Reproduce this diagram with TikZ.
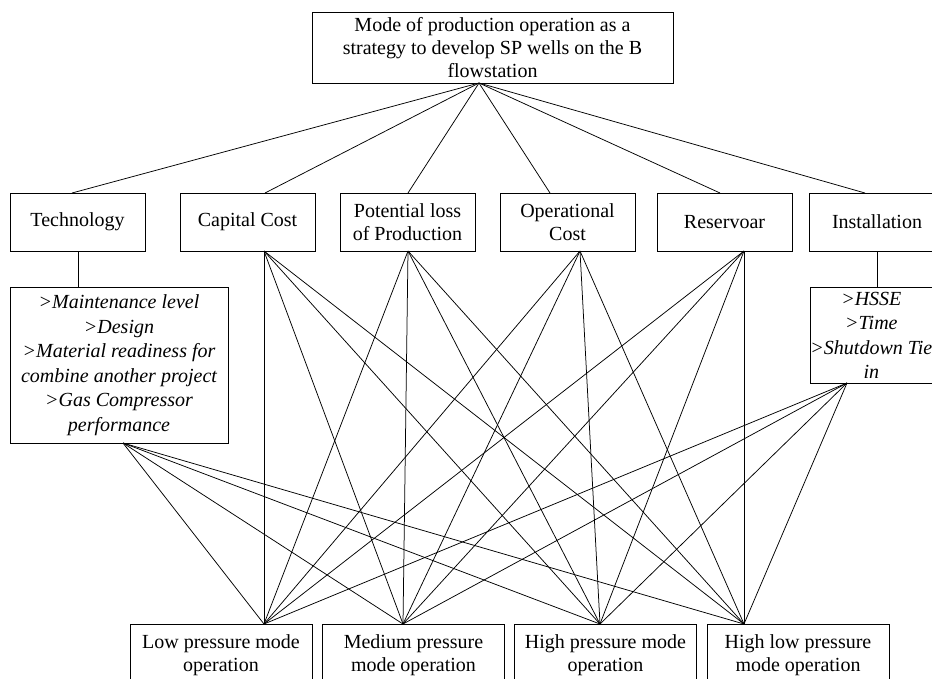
\documentclass[tikz,border=0pt]{standalone}
\usepackage{fontspec}
\setmainfont{Liberation Serif}
\begin{document}
\begin{tikzpicture}[x=1pt,y=-1pt,
  box/.style={draw, line width=0.9pt, align=center, inner sep=0pt,
    font=\fontsize{20}{23}\selectfont},
  detail/.style={box, font=\fontsize{20}{24.5}\selectfont\itshape},
  lvl/.style={box, minimum width=135, minimum height=58},
  alt/.style={box, minimum width=182, minimum height=62, anchor=north},
  link/.style={line width=0.75pt}]
\clip (0,0) rectangle (932,678);
\fill[white] (0,0) rectangle (932,678);

% goal
\node[box, minimum width=361, minimum height=71] (goal) at (492.5,47.5)
  {Mode of production operation as a\\strategy to develop SP wells on the B\\flowstation};

% criteria
\node[lvl] (tech) at (77.5,222) {Technology};
\node[lvl] (cap)  at (247.5,222) {Capital Cost};
\node[lvl] (pot)  at (407.5,222) {Potential loss\\of Production};
\node[lvl] (opc)  at (567.5,222) {Operational\\Cost};
\node[lvl] (res)  at (724.5,222) {Reservoar};
\node[lvl, minimum width=136] (ins) at (877,222) {Installation};

% details
\node[detail, minimum width=218, minimum height=156] (techd) at (119,365)
  {>Maintenance level\\>Design\\>Material readiness for\\combine another project\\>Gas Compressor\\performance};
\node[detail, draw=none, minimum width=118, minimum height=96, anchor=north west] (insd) at (810,287)
  {>HSSE\\>Time\\>Shutdown Tie\\in};
\draw[line width=0.9pt] (insd.north west) rectangle ++(140,96);

% alternatives
\node[alt] (low)  at (221,624) {Low pressure mode\\operation};
\node[alt] (med)  at (413.5,624) {Medium pressure\\mode operation};
\node[alt] (high) at (605.5,624) {High pressure mode\\operation};
\node[alt] (hl)   at (798,624) {High low pressure\\mode operation};

% connection points
\coordinate (gb) at (479,83);
\coordinate (techt) at (72,193);
\coordinate (capt)  at (265,193);
\coordinate (pott)  at (408,193);
\coordinate (opct)  at (550,193);
\coordinate (rest)  at (720,193);
\coordinate (inst)  at (865,193);
\coordinate (techb) at (78,251);
\coordinate (capb)  at (264,251);
\coordinate (potb)  at (408,251);
\coordinate (opcb)  at (580,251);
\coordinate (resb)  at (744,251);
\coordinate (insb)  at (877,251);
\coordinate (techdt) at (78,287);
\coordinate (insdt)  at (877,287);
\coordinate (techdb) at (123,443);
\coordinate (insdb)  at (847,383);
\coordinate (lowin)  at (264,624);
\coordinate (medin)  at (403,624);
\coordinate (highin) at (600,624);
\coordinate (hlin)   at (744,624);

\foreach \t in {techt,capt,pott,opct,rest,inst}
  \draw[link] (gb) -- (\t);
\draw[link] (techb) -- (techdt);
\draw[link] (insb) -- (insdt);
\foreach \s in {techdb,capb,potb,opcb,resb,insdb}
  \foreach \d in {lowin,medin,highin,hlin}
    \draw[link] (\s) -- (\d);
\end{tikzpicture}
\end{document}
